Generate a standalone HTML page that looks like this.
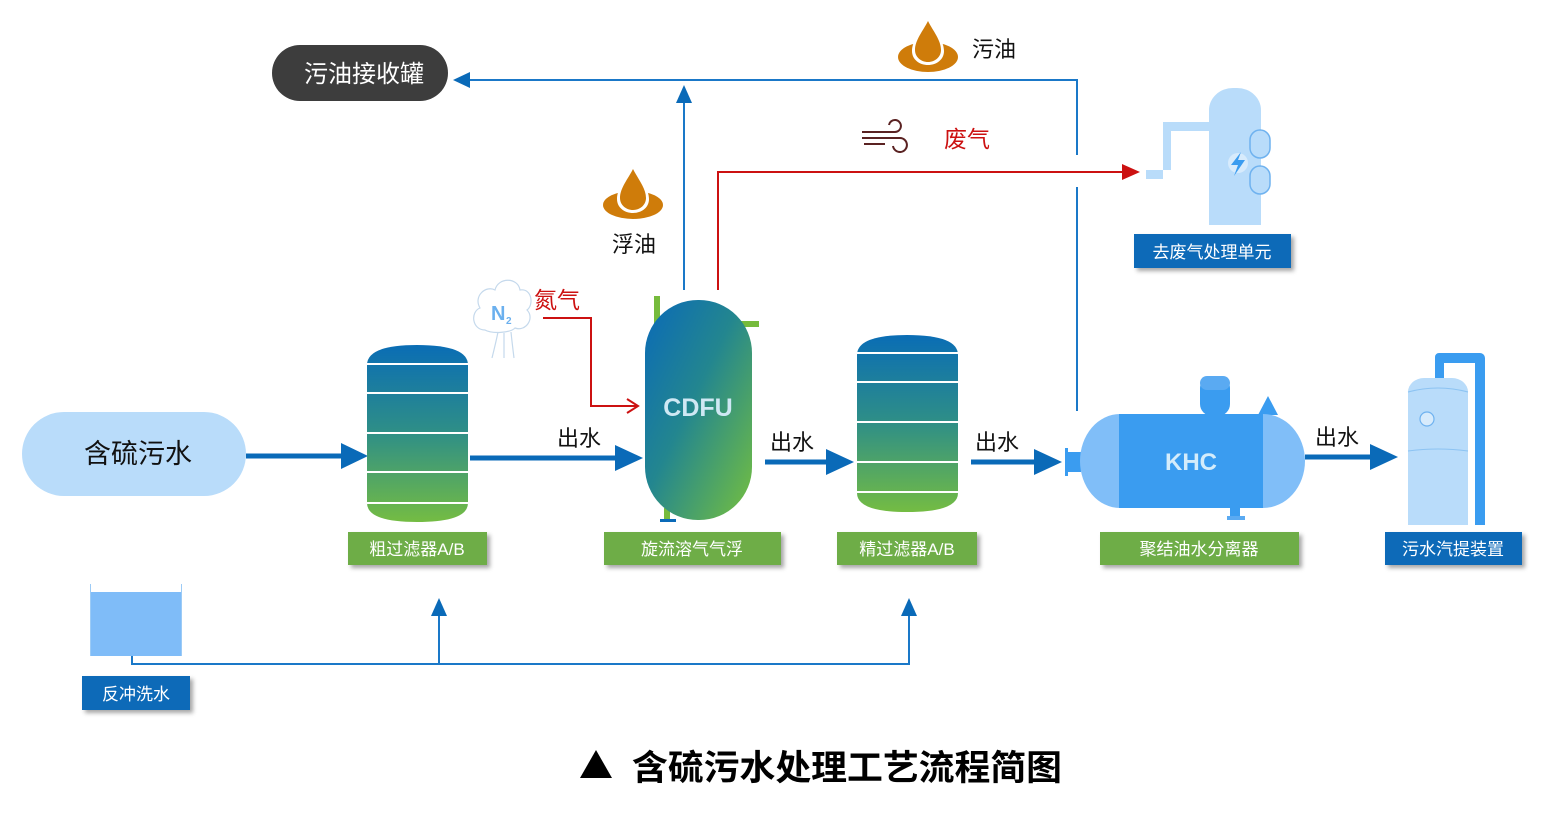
<!DOCTYPE html>
<html><head><meta charset="utf-8">
<style>
html,body{margin:0;padding:0;background:#fff;}
svg{display:block;}
text{font-family:"Liberation Sans","Noto Sans CJK SC",sans-serif;}
</style></head>
<body>
<svg width="1544" height="816" viewBox="0 0 1544 816" xmlns="http://www.w3.org/2000/svg">
<defs>
<linearGradient id="fg" x1="0" y1="0" x2="0" y2="1">
<stop offset="0" stop-color="#0a6db5"/><stop offset="0.5" stop-color="#2f8f86"/><stop offset="1" stop-color="#74bc43"/>
</linearGradient>
<linearGradient id="cg" x1="0" y1="0" x2="1" y2="1">
<stop offset="0" stop-color="#0a6ab8"/><stop offset="0.45" stop-color="#23868f"/><stop offset="1" stop-color="#76c03e"/>
</linearGradient>
<filter id="sh" x="-10%" y="-10%" width="130%" height="150%"><feDropShadow dx="3" dy="3" stdDeviation="2" flood-color="#000" flood-opacity="0.35"/></filter>
</defs>

<!-- 污油接收罐 -->
<rect x="272" y="45" width="176" height="56" rx="28" fill="#3d3d3d"/>
<text x="364" y="82" font-size="24" fill="#fff" text-anchor="middle">污油接收罐</text>

<!-- top blue line -->
<line x1="468" y1="80" x2="1078" y2="80" stroke="#1a78c8" stroke-width="2"/>
<polygon points="453,80 470,72 470,88" fill="#0a6ab8"/>
<line x1="1077" y1="80" x2="1077" y2="155" stroke="#1a78c8" stroke-width="2"/>
<line x1="1077" y1="187" x2="1077" y2="411" stroke="#1a78c8" stroke-width="2"/>
<line x1="684" y1="100" x2="684" y2="290" stroke="#1a78c8" stroke-width="2"/>
<polygon points="684,85 676,103 692,103" fill="#0a6ab8"/>

<!-- oil drops -->
<g transform="translate(928,45)">
<ellipse cx="0" cy="12" rx="30" ry="15" fill="#cf7c0a"/>
<path d="M0,-27 C-6,-15 -16,-5 -16,6 C-16,15 -8,20 0,20 C8,20 16,15 16,6 C16,-5 6,-15 0,-27Z" fill="#fff"/>
<path d="M0,-24 C-5,-14 -13,-5 -13,5 C-13,12 -7,17 0,17 C7,17 13,12 13,5 C13,-5 5,-14 0,-24Z" fill="#cf7c0a"/>
</g>
<text x="972" y="57" font-size="22" fill="#111">污油</text>
<g transform="translate(633,193)">
<ellipse cx="0" cy="12" rx="30" ry="14" fill="#cf7c0a"/>
<path d="M0,-27 C-6,-15 -16,-5 -16,6 C-16,15 -8,20 0,20 C8,20 16,15 16,6 C16,-5 6,-15 0,-27Z" fill="#fff"/>
<path d="M0,-24 C-5,-14 -13,-5 -13,5 C-13,12 -7,17 0,17 C7,17 13,12 13,5 C13,-5 5,-14 0,-24Z" fill="#cf7c0a"/>
</g>
<text x="612" y="252" font-size="22" fill="#111">浮油</text>

<!-- wind -->
<g stroke="#5a2222" stroke-width="2" fill="none">
<path d="M862,132 H895 A6,6 0 1 0 889,125"/>
<path d="M862,138 H900 A7,7 0 1 1 893,146"/>
<path d="M864,144 H885"/>
</g>
<text x="944" y="147" font-size="23" fill="#cc1111">废气</text>

<!-- red line -->
<polyline points="718,290 718,172 1125,172" fill="none" stroke="#cc1111" stroke-width="2"/>
<polygon points="1140,172 1122,164 1122,180" fill="#cc1111"/>

<!-- scrubber -->
<g fill="#b9dcfa">
<path d="M1209,225 V110 a24,22 0 0 1 24,-22 h4 a24,22 0 0 1 24,22 V225Z"/>
<polygon points="1146,170 1171,170 1171,131 1209,131 1209,122 1163,122 1163,179 1146,179"/>
</g>
<g fill="#b9dcfa" stroke="#6fb2ef" stroke-width="1.5">
<rect x="1250" y="130" width="20" height="28" rx="10"/>
<rect x="1250" y="166" width="20" height="28" rx="10"/>
</g>
<circle cx="1238" cy="163" r="10" fill="#d7ebfc"/>
<path d="M1241,152 L1231,165 H1238 L1234,176 L1245,160 H1238Z" fill="#3a9cf0"/>
<rect x="1134" y="234" width="157" height="34" fill="#0a6ab8" filter="url(#sh)"/>
<text x="1212" y="258" font-size="17" fill="#fff" text-anchor="middle">去废气处理单元</text>

<!-- N2 cloud -->
<g stroke="#c5d9ec" stroke-width="1.2" fill="#fff">
<path d="M485,330 C472,330 470,312 480,308 C473,296 486,285 495,290 C498,277 518,277 520,290 C532,288 534,305 527,310 C535,318 526,332 515,328 C510,333 492,334 485,330Z"/>
<path d="M498,332 C496,342 494,350 492,358 M504,333 V358 M511,332 C512,342 513,350 514,358" fill="none"/>
</g>
<text x="491" y="320" font-size="20" font-weight="bold" fill="#6bb0ee">N</text>
<text x="506" y="324" font-size="10" font-weight="bold" fill="#6bb0ee">2</text>
<text x="534" y="308" font-size="23" fill="#cc1111">氮气</text>
<polyline points="543,318 591,318 591,406 636,406" fill="none" stroke="#cc1111" stroke-width="2"/>
<polyline points="627,399 638,406 627,413" fill="none" stroke="#cc1111" stroke-width="2"/>

<!-- 含硫污水 -->
<rect x="22" y="412" width="224" height="84" rx="42" fill="#b9dcfa"/>
<text x="138" y="463" font-size="27" fill="#111" text-anchor="middle">含硫污水</text>
<line x1="246" y1="456" x2="342" y2="456" stroke="#0a6ab8" stroke-width="5"/>
<polygon points="368,456 341,443 341,469" fill="#0a6ab8"/>

<!-- filter 1 -->
<g>
<path d="M367,365 Q367,345 417,345 Q468,345 468,365 V503 Q468,522 417,522 Q367,522 367,503Z" fill="url(#fg)"/>
<g stroke="#fff" stroke-width="2"><line x1="367" y1="364" x2="468" y2="364"/><line x1="367" y1="393" x2="468" y2="393"/><line x1="367" y1="433" x2="468" y2="433"/><line x1="367" y1="472" x2="468" y2="472"/><line x1="367" y1="503" x2="468" y2="503"/></g>
</g>
<rect x="348" y="532" width="139" height="33" fill="#6ead47" filter="url(#sh)"/>
<text x="417" y="555" font-size="17" fill="#fff" text-anchor="middle">粗过滤器A/B</text>

<line x1="470" y1="458" x2="617" y2="458" stroke="#0a6ab8" stroke-width="5"/>
<polygon points="643,458 615,445 615,471" fill="#0a6ab8"/>
<text x="557" y="446" font-size="22" fill="#111">出水</text>

<!-- CDFU -->
<rect x="654" y="296" width="6" height="30" fill="#76bb3c"/>
<rect x="740" y="321" width="19" height="6" fill="#76bb3c"/>
<rect x="664" y="508" width="6" height="14" fill="#76bb3c"/>
<rect x="660" y="519" width="16" height="3" fill="#0a6ab8"/>
<rect x="645" y="300" width="107" height="220" rx="53" fill="url(#cg)"/>
<text x="698" y="416" font-size="25" font-weight="bold" fill="#cfe8f4" text-anchor="middle">CDFU</text>
<rect x="604" y="532" width="177" height="33" fill="#6ead47" filter="url(#sh)"/>
<text x="692" y="555" font-size="17" fill="#fff" text-anchor="middle">旋流溶气气浮</text>

<line x1="765" y1="462" x2="828" y2="462" stroke="#0a6ab8" stroke-width="5"/>
<polygon points="854,462 826,449 826,475" fill="#0a6ab8"/>
<text x="770" y="450" font-size="22" fill="#111">出水</text>

<!-- filter 2 -->
<g>
<path d="M857,355 Q857,335 907,335 Q958,335 958,355 V493 Q958,512 907,512 Q857,512 857,493Z" fill="url(#fg)"/>
<g stroke="#fff" stroke-width="2"><line x1="857" y1="353" x2="958" y2="353"/><line x1="857" y1="382" x2="958" y2="382"/><line x1="857" y1="422" x2="958" y2="422"/><line x1="857" y1="462" x2="958" y2="462"/><line x1="857" y1="492" x2="958" y2="492"/></g>
</g>
<rect x="837" y="532" width="140" height="33" fill="#6ead47" filter="url(#sh)"/>
<text x="907" y="555" font-size="17" fill="#fff" text-anchor="middle">精过滤器A/B</text>

<line x1="971" y1="462" x2="1036" y2="462" stroke="#0a6ab8" stroke-width="5"/>
<polygon points="1062,462 1034,449 1034,475" fill="#0a6ab8"/>
<text x="975" y="450" font-size="22" fill="#111">出水</text>

<!-- KHC -->
<rect x="1065" y="448" width="3" height="28" fill="#3a9cf0"/>
<rect x="1067" y="452" width="14" height="20" fill="#3a9cf0"/>
<rect x="1200" y="376" width="30" height="40" rx="12" fill="#3a9cf0"/>
<rect x="1200" y="376" width="30" height="14" rx="7" fill="#5aaaf2"/>
<polygon points="1258,415 1268,396 1278,415" fill="#3a9cf0"/>
<path d="M1120,414 H1263 V508 H1120 A40,47 0 0 1 1080,461 A40,47 0 0 1 1120,414Z" fill="#80bef8"/>
<path d="M1263,414 A42,47 0 0 1 1305,461 A42,47 0 0 1 1263,508Z" fill="#80bef8"/>
<rect x="1119" y="414" width="144" height="94" fill="#3a9cf0"/>
<rect x="1230" y="508" width="10" height="10" fill="#3a9cf0"/>
<rect x="1227" y="516" width="18" height="4" fill="#5aaaf2"/>
<text x="1191" y="470" font-size="24" font-weight="bold" fill="#d4ecfb" text-anchor="middle">KHC</text>
<rect x="1100" y="532" width="199" height="33" fill="#6ead47" filter="url(#sh)"/>
<text x="1199" y="555" font-size="17" fill="#fff" text-anchor="middle">聚结油水分离器</text>

<line x1="1305" y1="457" x2="1372" y2="457" stroke="#0a6ab8" stroke-width="5"/>
<polygon points="1398,457 1370,444 1370,470" fill="#0a6ab8"/>
<text x="1315" y="445" font-size="22" fill="#111">出水</text>

<!-- stripper -->
<path d="M1435,378 V357 a4,4 0 0 1 4,-4 H1480 a5,5 0 0 1 5,5 V525 H1475 V363 H1444 V378Z" fill="#3a9cf0"/>
<path d="M1408,525 V392 a16,14 0 0 1 16,-14 H1452 a16,14 0 0 1 16,14 V525Z" fill="#b9dcfa"/>
<path d="M1408,392 Q1438,384 1468,392 M1408,451 Q1438,447 1468,451" stroke="#8cc3f2" stroke-width="1" fill="none"/>
<circle cx="1427" cy="419" r="7" fill="#d7ebfc" stroke="#6fb2ef" stroke-width="1.2"/>
<rect x="1385" y="532" width="137" height="33" fill="#0a6ab8" filter="url(#sh)"/>
<text x="1453" y="555" font-size="17" fill="#fff" text-anchor="middle">污水汽提装置</text>

<!-- backwash -->
<rect x="90" y="592" width="92" height="64" fill="#7fbcf8"/>
<line x1="90.5" y1="584" x2="90.5" y2="656" stroke="#9ccbf6" stroke-width="1"/>
<line x1="181.5" y1="584" x2="181.5" y2="656" stroke="#9ccbf6" stroke-width="1"/>
<polyline points="132,656 132,664 909,664 909,612" fill="none" stroke="#1a78c8" stroke-width="2"/>
<line x1="439" y1="664" x2="439" y2="612" stroke="#1a78c8" stroke-width="2"/>
<polygon points="439,598 431,616 447,616" fill="#0a6ab8"/>
<polygon points="909,598 901,616 917,616" fill="#0a6ab8"/>
<rect x="82" y="676" width="108" height="34" fill="#0a6ab8" filter="url(#sh)"/>
<text x="136" y="700" font-size="17" fill="#fff" text-anchor="middle">反冲洗水</text>

<!-- title -->
<polygon points="596,750 580,778 612,778" fill="#000"/>
<text x="632" y="780" font-size="35" font-weight="bold" fill="#000" textLength="430" lengthAdjust="spacingAndGlyphs">含硫污水处理工艺流程简图</text>
</svg>
</body></html>
